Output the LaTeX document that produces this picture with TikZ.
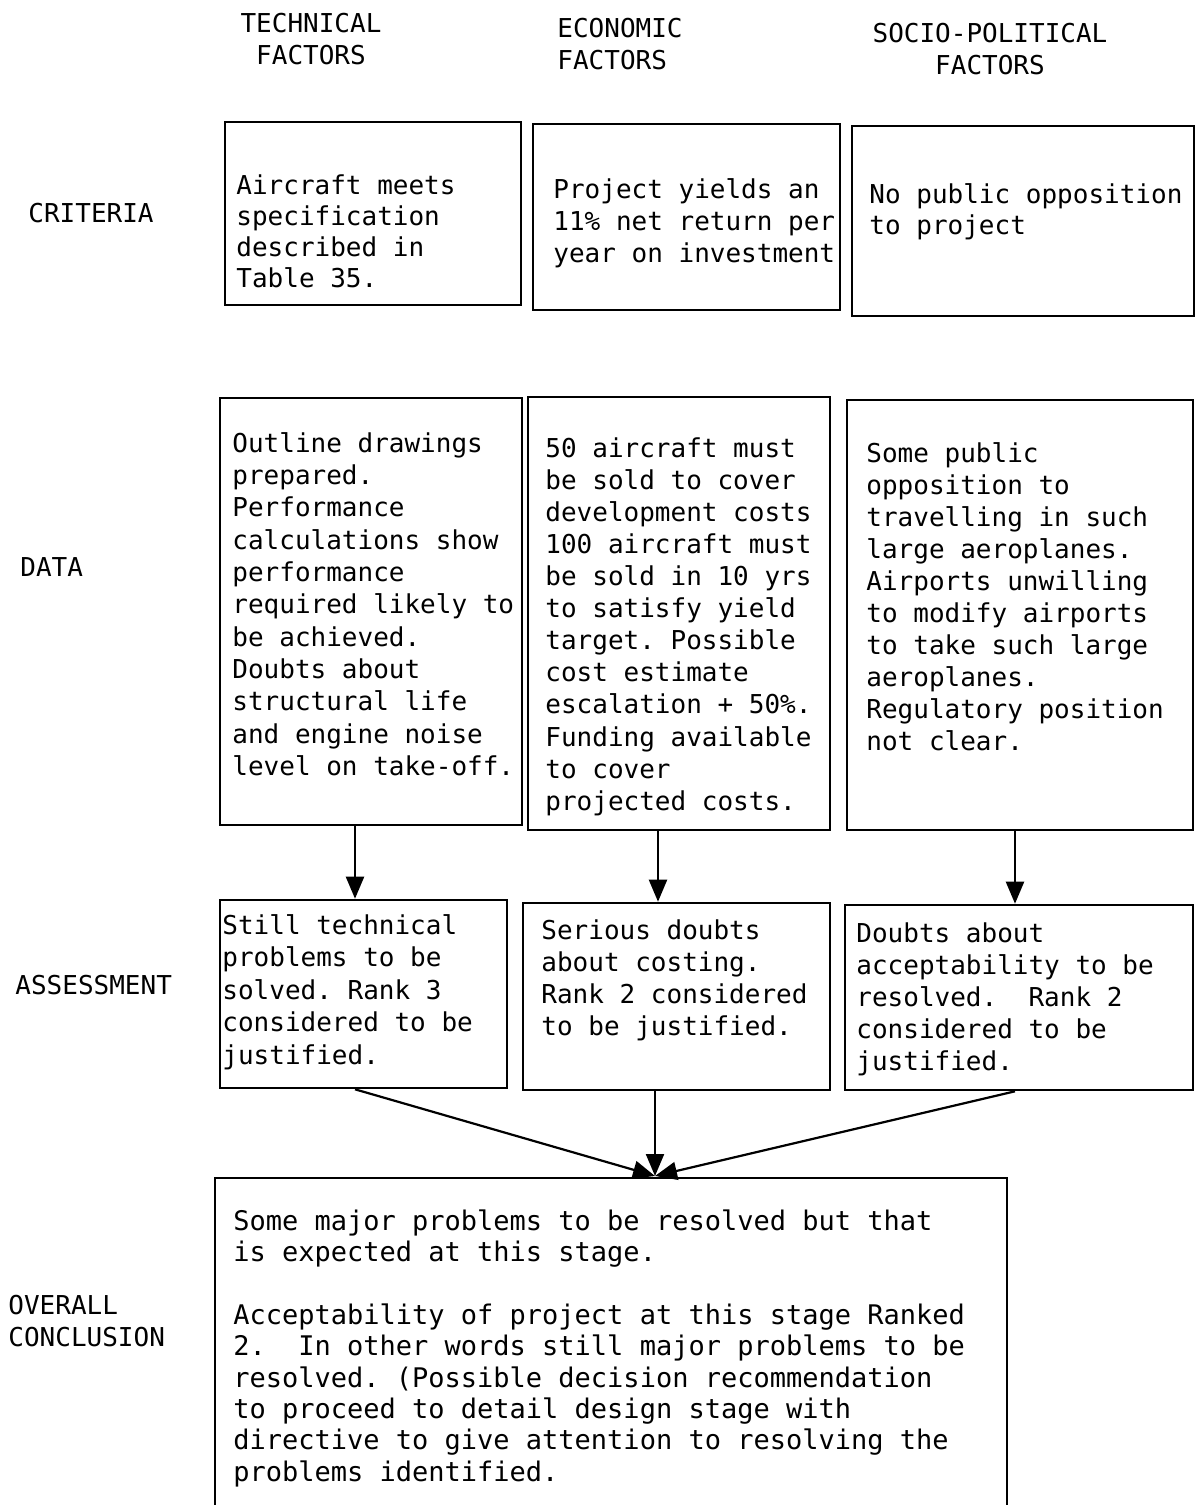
\documentclass[tikz,border=0pt]{standalone}
\usepackage{fontspec}
\newfontfamily\tw{DejaVu Sans Mono}
\usetikzlibrary{fit,arrows.meta}
\frenchspacing
\begin{document}
\begin{tikzpicture}[x=0.5pt,y=-0.5pt,
  box/.style={draw, line width=1.3pt, inner sep=0pt},
  txt/.style={anchor=north west, inner sep=0pt, align=left, font=\tw\fontsize{13}{#1}\selectfont},
  txt/.default=16pt,
  hdr/.style={inner sep=0pt, align=center, font=\tw\fontsize{13}{16}\selectfont},
  rowlab/.style={anchor=west, inner sep=0pt, font=\tw\fontsize{13}{16}\selectfont},
  arr/.style={line width=1.1pt, -{Triangle[length=11pt,width=9pt]}}]
\useasboundingbox (0,0) rectangle (1199,1505);

% headers
\node[hdr, anchor=north] (h1) at (311,13) {TECHNICAL\\FACTORS};
\node[hdr, anchor=north west, align=left] (h2) at (557,18) {ECONOMIC\\FACTORS};
\node[hdr, anchor=north] (h3) at (990,23) {SOCIO-POLITICAL\\FACTORS};

% row labels
\node[rowlab] (r1) at (28,213) {CRITERIA};
\node[rowlab] (r2) at (20,567) {DATA};
\node[rowlab] (r3) at (15,985) {ASSESSMENT};
\node[rowlab, anchor=north west, align=left] (r4) at (8,1295) {OVERALL\\CONCLUSION};

% criteria boxes
\node[box, fit={(225,122) (521,305)}] (c1) {};
\node[box, fit={(533,124) (840,310)}] (c2) {};
\node[box, fit={(852,126) (1194,316)}] (c3) {};
\node[txt=15.5pt] (c1t) at (236,174) {Aircraft meets\\specification\\described in\\Table 35.};
\node[txt] (c2t) at (553,178) {Project yields an\\11\% net return per\\year on investment};
\node[txt=15.5pt] (c3t) at (869,183) {No public opposition\\to project};

% data boxes
\node[box, fit={(220,398) (522,825)}] (d1) {};
\node[box, fit={(528,397) (830,830)}] (d2) {};
\node[box, fit={(847,400) (1193,830)}] (d3) {};
\node[txt=16.15pt] (d1t) at (232,432) {Outline drawings\\prepared.\\Performance\\calculations show\\performance\\required likely to\\be achieved.\\Doubts about\\structural life\\and engine noise\\level on take-off.};
\node[txt=16.05pt] (d2t) at (545,437) {50 aircraft must\\be sold to cover\\development costs\\100 aircraft must\\be sold in 10 yrs\\to satisfy yield\\target. Possible\\cost estimate\\escalation + 50\%.\\Funding available\\to cover\\projected costs.};
\node[txt] (d3t) at (866,442) {Some public\\opposition to\\travelling in such\\large aeroplanes.\\Airports unwilling\\to modify airports\\to take such large\\aeroplanes.\\Regulatory position\\not clear.};

% assessment boxes
\node[box, fit={(220,900) (507,1088)}] (a1) {};
\node[box, fit={(523,903) (830,1090)}] (a2) {};
\node[box, fit={(845,905) (1193,1090)}] (a3) {};
\node[txt=16.25pt] (a1t) at (222,914) {Still technical\\problems to be\\solved. Rank 3\\considered to be\\justified.};
\node[txt] (a2t) at (541,919) {Serious doubts\\about costing.\\Rank 2 considered\\to be justified.};
\node[txt] (a3t) at (856,922) {Doubts about\\acceptability to be\\resolved.~~Rank 2\\considered to be\\justified.};

% conclusion box (open at the bottom edge of the page)
\node[box, fit={(215,1178) (1007,1540)}] (oc) {};
\node[anchor=north west, inner sep=0pt, align=left, font=\tw\fontsize{13.5}{15.7}\selectfont] (oct) at (233,1209) {Some major problems to be resolved but that\\is expected at this stage.\\[15.7pt]Acceptability of project at this stage Ranked\\2.~~In other words still major problems to be\\resolved. (Possible decision recommendation\\to proceed to detail design stage with\\directive to give attention to resolving the\\problems identified.};

% connectors
\coordinate (x1) at (355,0);
\coordinate (x2) at (658,0);
\coordinate (x3) at (1015,0);
\coordinate (m) at (655,1176);
\draw[arr] (d1.south -| x1) -- (a1.north -| x1);
\draw[arr] (d2.south -| x2) -- (a2.north -| x2);
\draw[arr] (d3.south -| x3) -- (a3.north -| x3);
\draw[arr] (a1.south -| x1) -- (m);
\draw[arr] (a2.south -| m) -- (m);
\draw[arr] (a3.south -| x3) -- (m);
\end{tikzpicture}
\end{document}
